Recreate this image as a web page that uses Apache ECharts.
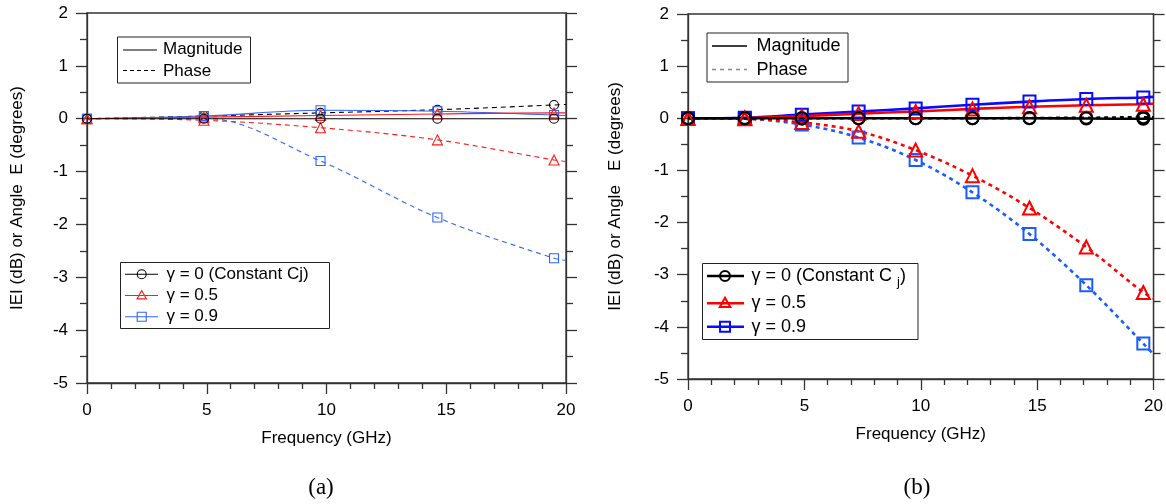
<!DOCTYPE html>
<html><head><meta charset="utf-8">
<script src="https://cdn.jsdelivr.net/npm/echarts@6/dist/echarts.min.js"></script>
<style>html,body{margin:0;padding:0;background:#fff}#c{width:1166px;height:504px}</style>
</head><body><div id="c"></div>
<script>
// ---------- data ----------
const xTicks = [0, 5, 10, 15, 20];
const yTicks = [-5, -4, -3, -2, -1, 0, 1, 2];

// panel (a): frequencies (GHz); last point extends curve to the axis edge (no marker)
const freqA   = [0, 4.88, 9.75, 14.63, 19.5, 20];
const magA0   = [0, 0, 0, 0, 0, 0];
const phaseA0 = [0, 0.05, 0.11, 0.17, 0.26, 0.27];
const magA05  = [0, 0.03, 0.06, 0.09, 0.11, 0.11];
const phaseA05= [0, -0.03, -0.17, -0.40, -0.78, -0.81];
const magA09  = [0, 0.05, 0.16, 0.14, 0.07, 0.06];
const phaseA09= [0, 0.01, -0.80, -1.87, -2.64, -2.68];

// panel (b)
const freqB   = [0, 2.44, 4.89, 7.33, 9.78, 12.22, 14.67, 17.11, 19.56, 20];
const magB0   = [0, 0, 0, 0, 0, 0, 0, -0.005, -0.01, -0.01];
const phaseB0 = [0, 0, 0, 0, 0, 0, 0.005, 0.01, 0.02, 0.02];
const magB05  = [0, 0.005, 0.04, 0.09, 0.13, 0.18, 0.22, 0.25, 0.27, 0.28];
const phaseB05= [0, -0.01, -0.08, -0.25, -0.61, -1.10, -1.72, -2.47, -3.34, -3.45];
const magB09  = [0, 0.01, 0.07, 0.13, 0.19, 0.26, 0.32, 0.37, 0.40, 0.41];
const phaseB09= [0, -0.01, -0.12, -0.37, -0.80, -1.42, -2.22, -3.20, -4.32, -4.53];

const legendA = ['γ = 0 (Constant Cj)', 'γ = 0.5', 'γ = 0.9'];
const legendTop = ['Magnitude', 'Phase'];

// ---------- styles ----------
const FONT = 'Liberation Sans, Arial, Helvetica, sans-serif';
const AX = '#333';
const colA = {k:'#000000', r:'#ff1a1a', b:'#2f64ff'};
const colB = {k:'#000000', r:'#ff0000', b:'#0a0aff', bd:'#1a5cff'};

function axesFor(gi) {
  const ls = {color: AX, width: 1.3};
  return {
    x: {
      gridIndex: gi, type: 'value', min: xTicks[0], max: xTicks[xTicks.length-1], interval: 5,
      axisLine: {show: true, onZero: false, lineStyle: ls},
      axisTick: {show: true, inside: false, length: 11, lineStyle: ls},
      minorTick: {show: true, splitNumber: 5, length: 6, lineStyle: ls},
      splitLine: {show: false},
      axisLabel: {margin: 19, fontSize: 17, color: '#000', fontFamily: FONT},
      name: 'Frequency (GHz)', nameLocation: 'middle', nameGap: 47,
      nameTextStyle: {fontSize: 17, color: '#000', fontFamily: FONT}
    },
    yl: {
      gridIndex: gi, type: 'value', min: yTicks[0], max: yTicks[yTicks.length-1], interval: 1,
      position: 'left',
      axisLine: {show: true, onZero: false, lineStyle: ls},
      axisTick: {show: true, inside: false, length: 11, lineStyle: ls},
      minorTick: {show: true, splitNumber: 2, length: 7, lineStyle: ls},
      splitLine: {show: false},
      axisLabel: {margin: 19, fontSize: 17, color: '#000', fontFamily: FONT},
      name: gi === 0 ? 'IEI (dB) or Angle  E (degrees)' : 'IEI (dB) or Angle   E (degrees)',
      nameLocation: 'middle', nameGap: gi === 0 ? 61 : 64, nameRotate: 90,
      nameTextStyle: {fontSize: 17, color: '#000', fontFamily: FONT}
    },
    yr: {
      gridIndex: gi, type: 'value', min: yTicks[0], max: yTicks[yTicks.length-1], interval: 1,
      position: 'right',
      axisLine: {show: true, onZero: false, lineStyle: ls},
      axisTick: {show: true, inside: false, length: 11, lineStyle: ls},
      minorTick: {show: true, splitNumber: 2, length: 7, lineStyle: ls},
      splitLine: {show: false},
      axisLabel: {show: false}
    }
  };
}
const a0 = axesFor(0), a1 = axesFor(1);

function ser(gi, xs, ys, color, symbol, dashed, thick, lineColor) {
  const data = xs.map((x, i) => i === xs.length - 1 ? {value: [x, ys[i]], symbol: 'none'} : [x, ys[i]]);
  const lc = lineColor || color;
  return {
    type: 'line', xAxisIndex: gi, yAxisIndex: gi * 2, data: data,
    smooth: 0.35, symbol: symbol,
    symbolSize: thick ? (symbol === 'triangle' ? 13 : 12) : (symbol === 'triangle' ? 10 : 9),
    showAllSymbol: true,
    lineStyle: {color: lc, width: thick ? 2.6 : 1.1, type: dashed ? (thick ? [4, 4] : [5, 4]) : 'solid'},
    itemStyle: {color: 'rgba(0,0,0,0)', borderColor: color, borderWidth: thick ? 2 : 1.1},
    emphasis: {disabled: true}, animation: false, z: dashed ? 3 : 4
  };
}

const series = [
  ser(0, freqA, phaseA09, colA.b, 'rect', true, false),
  ser(0, freqA, phaseA05, colA.r, 'triangle', true, false),
  ser(0, freqA, phaseA0,  colA.k, 'circle', true, false),
  ser(0, freqA, magA09,   colA.b, 'rect', false, false),
  ser(0, freqA, magA05,   colA.r, 'triangle', false, false),
  ser(0, freqA, magA0,    colA.k, 'circle', false, false),

  ser(1, freqB, phaseB09, colB.bd, 'rect', true, true),
  ser(1, freqB, phaseB05, colB.r, 'triangle', true, true),
  ser(1, freqB, phaseB0,  colB.k, 'circle', true, true),
  ser(1, freqB, magB09,   colB.b, 'rect', false, true),
  ser(1, freqB, magB05,   colB.r, 'triangle', false, true),
  ser(1, freqB, magB0,    colB.k, 'circle', false, true)
];

// ---------- legends (drawn as graphics) ----------
function marker(kind, cx, cy, r, color, lw) {
  const st = {fill: 'none', stroke: color, lineWidth: lw};
  if (kind === 'circle') return {type: 'circle', shape: {cx: cx, cy: cy, r: r}, style: st};
  if (kind === 'rect') return {type: 'rect', shape: {x: cx - r, y: cy - r, width: 2 * r, height: 2 * r}, style: st};
  return {type: 'polygon', shape: {points: [[cx, cy - r * 1.1], [cx + r * 1.05, cy + r * 0.75], [cx - r * 1.05, cy + r * 0.75]]}, style: st};
}
function txt(x, y, t, size, rich) {
  return {type: 'text', x: x, y: y, style: {text: t, fontSize: size, fontFamily: FONT, fill: '#000', verticalAlign: 'middle', align: 'left', rich: rich}};
}
function line(x1, x2, y, color, lw, dash) {
  return {type: 'line', shape: {x1: x1, y1: y, x2: x2, y2: y}, style: {stroke: color, lineWidth: lw, lineDash: dash || null}};
}
const g = [];
// (a) top legend
g.push({type: 'rect', shape: {x: 117.5, y: 37, width: 133, height: 46}, style: {fill: '#fff', stroke: '#222', lineWidth: 1}});
g.push(line(123, 157, 50, '#000', 1.1));
g.push(line(123, 157, 70.5, '#000', 1.1, [4, 3]));
g.push(txt(163, 49, legendTop[0], 17));
g.push(txt(163, 71, legendTop[1], 17));
// (a) bottom legend
g.push({type: 'rect', shape: {x: 120.5, y: 262.5, width: 209, height: 66}, style: {fill: '#fff', stroke: '#222', lineWidth: 1}});
const rowsA = [274.3, 295.5, 316.7], kinds = ['circle', 'triangle', 'rect'], cA = [colA.k, colA.r, colA.b];
rowsA.forEach((y, i) => {
  g.push(line(125, 158, y, cA[i], 1.1));
  g.push(marker(kinds[i], 141.7, y, 4.5, cA[i], 1.1));
  g.push(txt(166.5, y, legendA[i], 17));
});
// (b) top legend
g.push({type: 'rect', shape: {x: 707, y: 33, width: 141, height: 49}, style: {fill: '#fff', stroke: '#222', lineWidth: 1}});
g.push(line(712, 747, 46, '#000', 1.3));
g.push(line(712, 747, 69.5, '#888', 1.3, [4, 4]));
g.push(txt(756.5, 46, legendTop[0], 18));
g.push(txt(756.5, 70, legendTop[1], 18));
// (b) bottom legend
g.push({type: 'rect', shape: {x: 702.5, y: 263.5, width: 215.5, height: 76}, style: {fill: '#fff', stroke: '#222', lineWidth: 1}});
const rowsB = [276, 303.3, 326.7], cB = [colB.k, colB.r, colB.b];
const legendB = ['γ = 0 (Constant C {sub|j})', 'γ = 0.5', 'γ = 0.9'];
rowsB.forEach((y, i) => {
  g.push(line(707, 744, y, cB[i], 2.6));
  g.push(marker(kinds[i], 725, y, 5, cB[i], 2));
  g.push(txt(751.5, y, legendB[i], 18, {sub: {fontSize: 13, fontFamily: FONT, padding: [12, 0, 0, 0]}}));
});
// captions
g.push({type: 'text', x: 321, y: 488, style: {text: '(a)', fontSize: 23, fontFamily: 'Liberation Serif, Times New Roman, serif', fill: '#000', align: 'center', verticalAlign: 'middle'}});
g.push({type: 'text', x: 917, y: 488, style: {text: '(b)', fontSize: 23, fontFamily: 'Liberation Serif, Times New Roman, serif', fill: '#000', align: 'center', verticalAlign: 'middle'}});

const chart = echarts.init(document.getElementById('c'), null, {renderer: 'canvas'});
chart.setOption({
  backgroundColor: '#fff',
  animation: false,
  grid: [
    {left: 87, top: 13, width: 479, height: 370, show: true, borderColor: AX, borderWidth: 1.3, containLabel: false},
    {left: 688, top: 14, width: 469, height: 365, show: true, borderColor: AX, borderWidth: 1.3, containLabel: false}
  ],
  xAxis: [a0.x, a1.x],
  yAxis: [a0.yl, a0.yr, a1.yl, a1.yr],
  series: series,
  graphic: {elements: g}
});
</script></body></html>
